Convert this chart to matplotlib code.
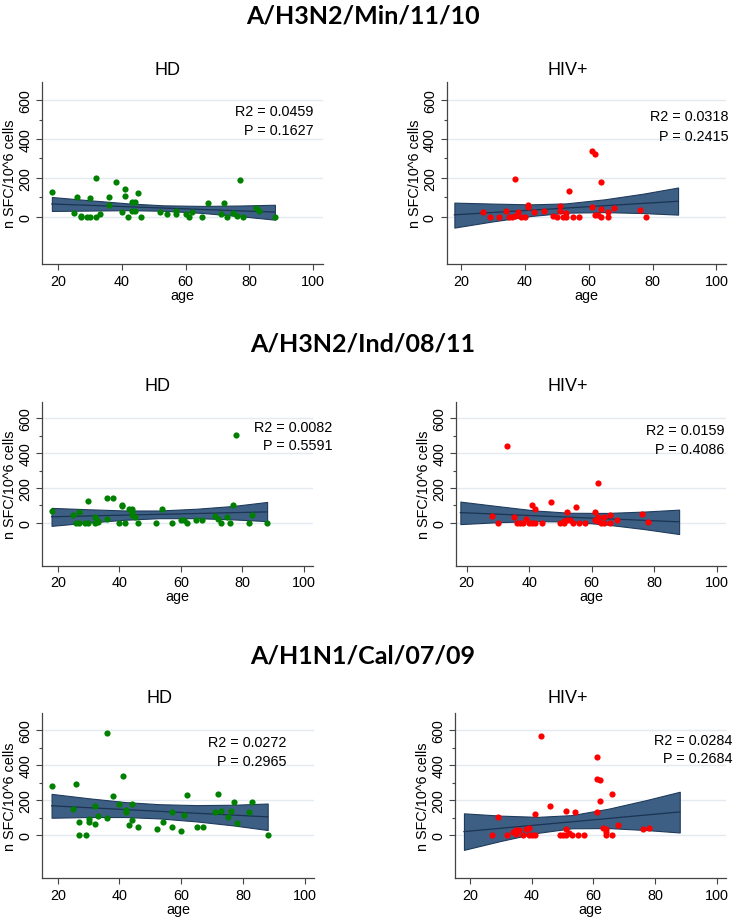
import matplotlib
matplotlib.use("Agg")
import matplotlib.pyplot as plt

plt.rcParams['font.family'] = ['Liberation Sans', 'DejaVu Sans']

# ---- data ----
band_age = [18, 30, 42, 53, 65, 77, 88]
fit_age = [18, 88]

# A/H3N2/Min/11/10 - HD
hd_min_age = [18, 25, 26, 27, 27, 29, 30, 30, 32, 32, 33, 36, 36, 38, 40, 41, 41, 42, 43, 43, 44, 44,
              45, 46, 52, 54, 57, 57, 60, 61, 62, 65, 67, 71, 72, 73, 75, 76, 77, 78, 82, 83, 88]
hd_min_sfc = [128, 19, 101, 3, 0, 0, 94, 0, 200, 0, 14, 103, 62, 177, 22, 144, 105, 0, 74, 31, 77, 31,
              123, 0, 26, 14, 31, 12, 12, 0, 26, 0, 72, 14, 70, 0, 16, 4, 189, 0, 46, 31, 0]
hd_min_lo = [29, 31, 33, 30, 19, 2, -16]
hd_min_hi = [101, 84, 68, 58, 55, 57, 61]
hd_min_fit = [65, 23]

# A/H3N2/Min/11/10 - HIV+
hiv_min_age = [27, 29, 32, 34, 35, 36, 37, 37, 38, 39, 40, 41, 41, 43, 46, 49, 50, 51, 51, 52, 53, 53,
               54, 55, 57, 61, 61, 62, 62, 63, 64, 64, 64, 66, 66, 68, 76, 78]
hiv_min_sfc = [21, 0, 0, 31, 0, 0, 5, 194, 24, 0, 0, 62, 51, 24, 31, 5, 0, 57, 31, 0, 0, 19,
               130, 0, 0, 339, 48, 322, 9, 9, 180, 39, 0, 22, 0, 45, 34, 0]
hiv_min_lo = [-57, -25, 3, 20, 23, 18, 10]
hiv_min_hi = [72, 67, 63, 68, 89, 118, 150]
hiv_min_fit = [9, 79]

# A/H3N2/Ind/08/11 - HD
hd_ind_age = [18, 25, 26, 27, 27, 29, 30, 30, 32, 32, 33, 33, 36, 36, 38, 40, 41, 41, 42, 43, 44, 44,
              44, 45, 46, 52, 54, 57, 60, 61, 62, 65, 67, 71, 72, 73, 75, 76, 77, 78, 82, 83, 88]
hd_ind_sfc = [69, 48, 0, 0, 63, 0, 0, 125, 31, 0, 6, 10, 144, 21, 144, 0, 105, 98, 0, 77, 63, 82,
              45, 31, 0, 0, 79, 0, 15, 15, 0, 19, 19, 40, 25, 0, 31, 0, 105, 504, 0, 44, 0]
hd_ind_lo = [-17, 2, 18, 27, 27, 20, 10]
hd_ind_hi = [86, 78, 71, 71, 81, 97, 120]
hd_ind_fit = [35, 63]

# A/H3N2/Ind/08/11 - HIV+
hiv_ind_age = [28, 30, 33, 35, 36, 37, 38, 39, 40, 41, 42, 41, 42, 44, 47, 50, 51, 51, 52, 52, 53, 54,
               55, 56, 58, 61, 61, 62, 62, 62, 63, 64, 64, 66, 66, 68, 76, 78]
hiv_ind_sfc = [40, 0, 443, 31, 0, 0, 0, 21, 0, 0, 0, 102, 77, 0, 119, 0, 0, 10, 19, 63, 15, 0,
               90, 0, 0, 63, 19, 10, 230, 31, 0, 0, 31, 44, 0, 15, 50, 6]
hiv_ind_lo = [-7, 4, 10, 8, -10, -36, -64]
hiv_ind_hi = [122, 96, 71, 58, 57, 65, 76]
hiv_ind_fit = [59, 6]

# A/H1N1/Cal/07/09 - HD
hd_cal_age = [18, 25, 26, 27, 27, 29, 30, 30, 32, 32, 33, 36, 36, 38, 40, 41, 42, 42, 43, 44, 44,
              46, 52, 54, 57, 57, 60, 61, 62, 65, 67, 71, 72, 73, 75, 76, 77, 78, 82, 83, 88]
hd_cal_sfc = [282, 150, 291, 78, 0, 0, 91, 76, 168, 67, 110, 581, 97, 225, 181, 339, 145, 130, 57, 179, 86,
              50, 38, 76, 133, 48, 23, 114, 229, 50, 50, 133, 234, 141, 107, 141, 192, 72, 133, 192, 0]
hd_cal_lo = [100, 104, 104, 96, 79, 56, 30]
hd_cal_hi = [236, 211, 189, 177, 172, 174, 181]
hd_cal_fit = [168, 105]

# A/H1N1/Cal/07/09 - HIV+
hiv_cal_age = [27, 29, 32, 34, 35, 35, 36, 37, 38, 39, 39, 40, 41, 41, 43, 46, 49, 50, 51, 51, 51, 52,
               53, 54, 55, 57, 61, 61, 61, 62, 62, 63, 64, 64, 64, 66, 66, 68, 76, 78]
hiv_cal_sfc = [0, 107, 0, 19, 10, 29, 29, 0, 38, 42, 0, 0, 0, 124, 564, 168, 0, 0, 0, 137, 34, 15,
               0, 133, 0, 4, 444, 320, 133, 314, 194, 42, 34, 19, 0, 238, 0, 59, 34, 44]
hiv_cal_lo = [-83, -32, 14, 40, 41, 30, 16]
hiv_cal_hi = [125, 112, 105, 115, 152, 200, 248]
hiv_cal_fit = [21, 133]

strains = ["A/H3N2/Min/11/10", "A/H3N2/Ind/08/11", "A/H1N1/Cal/07/09"]
groups = ["HD", "HIV+"]
r2_text = ["R2 = 0.0459", "R2 = 0.0318", "R2 = 0.0082", "R2 = 0.0159", "R2 = 0.0272", "R2 = 0.0284"]
p_text = ["P = 0.1627", "P = 0.2415", "P = 0.5591", "P = 0.4086", "P = 0.2965", "P = 0.2684"]

W, H = 737, 920
fig = plt.figure(figsize=(W / 100, H / 100), dpi=100)

# axes boxes in pixels: left, right, top, bottom
boxes = [(42.3, 322.7, 83, 265), (446.7, 726, 83, 265),
         (42.3, 313.3, 402.7, 566.6), (456, 726, 402.7, 566.6),
         (42.3, 314, 714.3, 879.3), (455, 726, 714.3, 879.3)]
xleft = [15, 15.6, 15, 16.6, 15, 15.1]
sub_pos = [(167, 75), (568, 75), (158, 391), (568, 391), (159, 703), (568, 703)]
txt_pos = [(100, 545, 447), (103.7, 517, 417), (109.3, 552, 446),
           (102.6, 532, 423), (94, 533, 421), (105, 544, 438)]
title_base = [23, 351, 663]

panels = [
    (hd_min_age, hd_min_sfc, hd_min_lo, hd_min_hi, hd_min_fit, "green"),
    (hiv_min_age, hiv_min_sfc, hiv_min_lo, hiv_min_hi, hiv_min_fit, "red"),
    (hd_ind_age, hd_ind_sfc, hd_ind_lo, hd_ind_hi, hd_ind_fit, "green"),
    (hiv_ind_age, hiv_ind_sfc, hiv_ind_lo, hiv_ind_hi, hiv_ind_fit, "red"),
    (hd_cal_age, hd_cal_sfc, hd_cal_lo, hd_cal_hi, hd_cal_fit, "green"),
    (hiv_cal_age, hiv_cal_sfc, hiv_cal_lo, hiv_cal_hi, hiv_cal_fit, "red"),
]
dot_col = {"green": "#008000", "red": "#ff0000"}

for i, (age, sfc, lo, hi, fit, col) in enumerate(panels):
    l, r, t, b = boxes[i]
    ax = fig.add_axes([l / W, 1 - b / H, (r - l) / W, (b - t) / H])
    ax.set_xlim(xleft[i], 103)
    ax.set_ylim(-245, 695)
    for g in [0, 200, 400, 600]:
        ax.axhline(g, color="#e3eaf1", lw=1, zorder=0)
    ax.fill_between(band_age, lo, hi, facecolor="#3e5f84", edgecolor="#1f3b5c", lw=0.8, zorder=2)
    ax.plot(fit_age, fit, color="#1a3452", lw=0.9, zorder=3)
    ax.scatter(age, sfc, s=20, color=dot_col[col], linewidths=0, zorder=4)

    ax.set_xticks([20, 40, 60, 80, 100])
    ax.set_yticks([0, 200, 400, 600])
    ax.set_yticks([100, 300, 500], minor=True)
    ax.tick_params(axis="both", which="major", length=4, width=0.8, color="#444444",
                   labelsize=10.4, pad=3)
    ax.tick_params(axis="y", which="minor", length=2.5, width=0.8, color="#444444")
    for lab in ax.get_yticklabels():
        lab.set_rotation(90)
        lab.set_va("center")
    for s in ["top", "right"]:
        ax.spines[s].set_visible(False)
    for s in ["left", "bottom"]:
        ax.spines[s].set_color("#444444")
        ax.spines[s].set_linewidth(0.9)
    ax.set_xlabel("age", fontsize=10.4, labelpad=0)
    ax.set_ylabel("n SFC/10^6 cells", fontsize=10.4, labelpad=1)

    tx, ty1, ty2 = txt_pos[i]
    ax.text(tx, ty1, r2_text[i], ha="right", va="center", fontsize=10.4)
    ax.text(tx, ty2, p_text[i], ha="right", va="center", fontsize=10.4)

    sx, sy = sub_pos[i]
    fig.text(sx / W, 1 - sy / H, groups[i % 2], ha="center", va="baseline", fontsize=13)

for k, s in enumerate(strains):
    fig.text(363 / W, 1 - title_base[k] / H, s, ha="center", va="baseline",
             fontsize=18, fontweight="bold", family=["Lato", "DejaVu Sans"])

fig.savefig("out.png", dpi=100, facecolor="white")
